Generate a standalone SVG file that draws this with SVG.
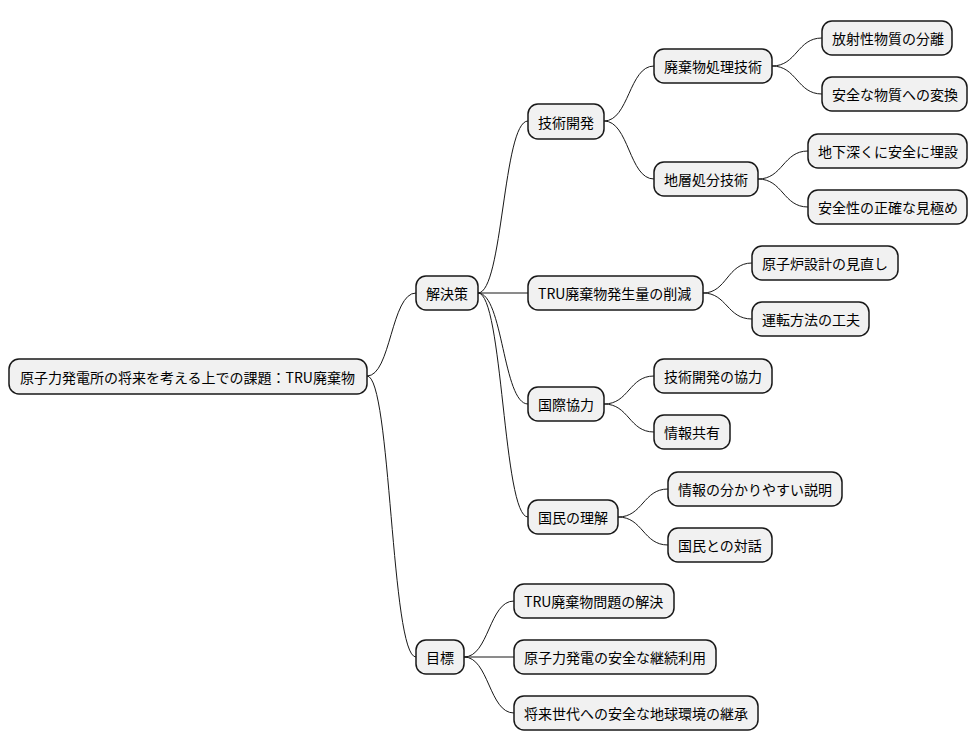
<svg xmlns="http://www.w3.org/2000/svg" width="979" height="752" viewBox="0 0 979 752">
<style>
.n rect{fill:#F1F1F1;stroke:#181818;stroke-width:1.5}
.n text{font-family:"Noto Sans CJK JP","Noto Sans",sans-serif;font-size:14px;fill:#000;dominant-baseline:central}
#c path{fill:none;stroke:#181818;stroke-width:1}
</style>
<rect width="979" height="752" fill="#fff"/>
<g id="c">
<path d="M367 376 C391 376 391 293 416 293"/>
<path d="M367 376 C391 376 391 657 416 657"/>
<path d="M478 293 C503 293 503 121 528 121"/>
<path d="M478 293 L528 293"/>
<path d="M478 293 C503 293 503 404 528 404"/>
<path d="M478 293 C503 293 503 517 528 517"/>
<path d="M464 657 C489 657 489 601 514 601"/>
<path d="M464 657 L514 657"/>
<path d="M464 657 C489 657 489 713 514 713"/>
<path d="M604 121 C629 121 629 66 654 66"/>
<path d="M604 121 C629 121 629 179 654 179"/>
<path d="M772 66 C797 66 797 38 822 38"/>
<path d="M772 66 C797 66 797 94 822 94"/>
<path d="M758 179 C783 179 783 151 808 151"/>
<path d="M758 179 C783 179 783 207 808 207"/>
<path d="M703 293 C727 293 727 263 752 263"/>
<path d="M703 293 C727 293 727 319 752 319"/>
<path d="M604 404 C629 404 629 376 654 376"/>
<path d="M604 404 C629 404 629 432 654 432"/>
<path d="M618 517 C643 517 643 489 668 489"/>
<path d="M618 517 C643 517 643 545 668 545"/>
</g>
<g id="root" class="n"><rect x="9" y="359" width="358" height="35" rx="10"/><text x="20" y="376.5">原子力発電所の将来を考える上での課題：TRU廃棄物</text></g>
<g id="kaiketsu" class="n"><rect x="416" y="276" width="62" height="34" rx="10"/><text x="426" y="293">解決策</text></g>
<g id="mokuhyo" class="n"><rect x="416" y="640" width="48" height="34" rx="10"/><text x="426" y="657">目標</text></g>
<g id="gijutsu" class="n"><rect x="528" y="104" width="76" height="35" rx="10"/><text x="538" y="121.5">技術開発</text></g>
<g id="sakugen" class="n"><rect x="528" y="276" width="175" height="34" rx="10"/><text x="538" y="293">TRU廃棄物発生量の削減</text></g>
<g id="kokusai" class="n"><rect x="528" y="387" width="76" height="34" rx="10"/><text x="538" y="404">国際協力</text></g>
<g id="rikai" class="n"><rect x="528" y="500" width="90" height="34" rx="10"/><text x="538" y="517">国民の理解</text></g>
<g id="shori" class="n"><rect x="654" y="49" width="118" height="34" rx="10"/><text x="664" y="66">廃棄物処理技術</text></g>
<g id="chiso" class="n"><rect x="654" y="162" width="104" height="34" rx="10"/><text x="664" y="179">地層処分技術</text></g>
<g id="bunri" class="n"><rect x="822" y="21" width="130" height="34" rx="10"/><text x="832" y="38">放射性物質の分離</text></g>
<g id="henkan" class="n"><rect x="822" y="77" width="145" height="34" rx="10"/><text x="832" y="94">安全な物質への変換</text></g>
<g id="maisetsu" class="n"><rect x="808" y="134" width="159" height="34" rx="10"/><text x="818" y="151">地下深くに安全に埋設</text></g>
<g id="mikiwame" class="n"><rect x="808" y="190" width="159" height="34" rx="10"/><text x="818" y="207">安全性の正確な見極め</text></g>
<g id="sekkei" class="n"><rect x="752" y="246" width="146" height="34" rx="10"/><text x="762" y="263">原子炉設計の見直し</text></g>
<g id="unten" class="n"><rect x="752" y="302" width="117" height="34" rx="10"/><text x="762" y="319">運転方法の工夫</text></g>
<g id="kyoryoku" class="n"><rect x="654" y="359" width="118" height="34" rx="10"/><text x="664" y="376">技術開発の協力</text></g>
<g id="kyoyu" class="n"><rect x="654" y="415" width="76" height="34" rx="10"/><text x="664" y="432">情報共有</text></g>
<g id="setsumei" class="n"><rect x="668" y="472" width="174" height="34" rx="10"/><text x="678" y="489">情報の分かりやすい説明</text></g>
<g id="taiwa" class="n"><rect x="668" y="528" width="104" height="34" rx="10"/><text x="678" y="545">国民との対話</text></g>
<g id="kaiketsu2" class="n"><rect x="514" y="584" width="160" height="34" rx="10"/><text x="524" y="601">TRU廃棄物問題の解決</text></g>
<g id="keizoku" class="n"><rect x="514" y="640" width="202" height="34" rx="10"/><text x="524" y="657">原子力発電の安全な継続利用</text></g>
<g id="keisho" class="n"><rect x="514" y="696" width="244" height="34" rx="10"/><text x="524" y="713">将来世代への安全な地球環境の継承</text></g>
</svg>
